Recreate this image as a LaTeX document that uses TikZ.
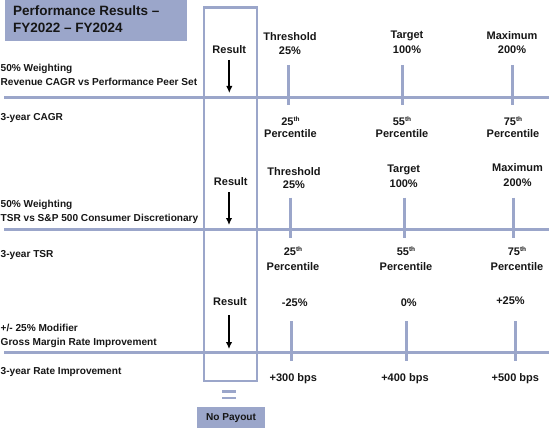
\documentclass[tikz,border=0pt]{standalone}
\usepackage{fontspec}
\setmainfont{Liberation Sans}
\usetikzlibrary{arrows.meta}
\definecolor{lav}{RGB}{155,166,202}
\definecolor{ink}{RGB}{22,22,22}
\newcommand{\thsup}{{\fontsize{6.5}{7}\selectfont\raisebox{3.6pt}{th}}}
\begin{document}
\begin{tikzpicture}[x=1pt,y=-1pt,
  lbl/.style={font=\fontsize{10.1}{12}\selectfont\bfseries, anchor=base west, inner sep=0pt, text=ink},
  val/.style={font=\fontsize{11}{13}\selectfont\bfseries, anchor=base, inner sep=0pt, text=ink},
  ttl/.style={font=\fontsize{13.5}{16}\selectfont\bfseries, anchor=base west, inner sep=0pt, text=ink},
  hline/.style={draw=lav, line width=3pt},
  tick/.style={draw=lav, line width=3pt},
  resbox/.style={draw=lav, line width=2.5pt},
  resarrow/.style={draw=black, line width=1.7pt, -{Latex[length=7pt,width=6.5pt]}}
]
\useasboundingbox (0,0) rectangle (549,428);

% title box
\path[fill=lav] (4.5,0) rectangle (187,40.7);
\node[ttl] (title1) at (13,15.7) {Performance Results --};
\node[ttl] (title2) at (13,32.3) {FY2022 -- FY2024};

% horizontal scale lines
\draw[hline] (4,97) -- (549,97);
\draw[hline] (4,229.5) -- (549,229.5);
\draw[hline] (4,352.7) -- (549,352.7);

% result box
\draw[resbox] (204,7.3) rectangle (257,381);

% ticks
\foreach \x in {288,402,512} \draw[tick] (\x,65) -- (\x,105);
\foreach \x in {290,404,513.7} \draw[tick] (\x,197.7) -- (\x,237.7);
\foreach \x in {291.7,406,515.7} \draw[tick] (\x,321) -- (\x,361);

% section 1
\node[val] (res1) at (229.3,54) {Result};
\coordinate (a1s) at (229.3,60);
\coordinate (a1e) at (229.3,93);
\draw[resarrow] (a1s) -- (a1e);
\node[val] (thr1) at (290,41) {Threshold};
\node[val] (thr1b) at (290,55) {25\%};
\node[val] (tgt1) at (407,39) {Target};
\node[val] (tgt1b) at (407,54) {100\%};
\node[val] (max1) at (512,40) {Maximum};
\node[val] (max1b) at (512,54) {200\%};
\node[lbl] (w1a) at (0.5,72) {50\% Weighting};
\node[lbl] (w1b) at (0.5,85) {Revenue CAGR vs Performance Peer Set};
\node[lbl] (cagr) at (0.5,120) {3-year CAGR};
\node[val] (p25a) at (290.5,125) {25\thsup};
\node[val] (p25b) at (290.5,137) {Percentile};
\node[val] (p55a) at (402,125) {55\thsup};
\node[val] (p55b) at (402,137) {Percentile};
\node[val] (p75a) at (513,125) {75\thsup};
\node[val] (p75b) at (513,137) {Percentile};

% section 2
\node[val] (res2) at (230.8,185.5) {Result};
\coordinate (a2s) at (229,192);
\coordinate (a2e) at (229,225);
\draw[resarrow] (a2s) -- (a2e);
\node[val] (thr2) at (294,175) {Threshold};
\node[val] (thr2b) at (294,188) {25\%};
\node[val] (tgt2) at (403.7,172.5) {Target};
\node[val] (tgt2b) at (403.7,187) {100\%};
\node[val] (max2) at (517.5,171.5) {Maximum};
\node[val] (max2b) at (517.5,186.5) {200\%};
\node[lbl] (w2a) at (0.5,207.7) {50\% Weighting};
\node[lbl] (w2b) at (0.5,221.7) {TSR vs S\&P 500 Consumer Discretionary};
\node[lbl] (tsr) at (0.5,257.5) {3-year TSR};
\node[val] (q25a) at (293,255) {25\thsup};
\node[val] (q25b) at (293,270.7) {Percentile};
\node[val] (q55a) at (406,255) {55\thsup};
\node[val] (q55b) at (406,270.7) {Percentile};
\node[val] (q75a) at (517,255) {75\thsup};
\node[val] (q75b) at (517,270.7) {Percentile};

% section 3
\node[val] (res3) at (230,305) {Result};
\coordinate (a3s) at (229,315);
\coordinate (a3e) at (229,349);
\draw[resarrow] (a3s) -- (a3e);
\node[val] (m1) at (294.7,306) {-25\%};
\node[val] (m2) at (408.7,306) {0\%};
\node[val] (m3) at (510.5,304) {+25\%};
\node[lbl] (mod1) at (0.5,331) {+/- 25\% Modifier};
\node[lbl] (mod2) at (0.5,345) {Gross Margin Rate Improvement};
\node[lbl] (rate) at (0.5,374) {3-year Rate Improvement};
\node[val] (b1) at (293.3,381.5) {+300 bps};
\node[val] (b2) at (405,381.5) {+400 bps};
\node[val] (b3) at (515.3,381.5) {+500 bps};

% equals and no payout
\draw[draw=lav, line width=2.5pt] (222,391.5) -- (236,391.5);
\draw[draw=lav, line width=2.5pt] (222,398) -- (236,398);
\path[fill=lav] (197,407) rectangle (265,428);
\node[lbl, anchor=base] (nopay) at (231,420) {No Payout};
\end{tikzpicture}
\end{document}
